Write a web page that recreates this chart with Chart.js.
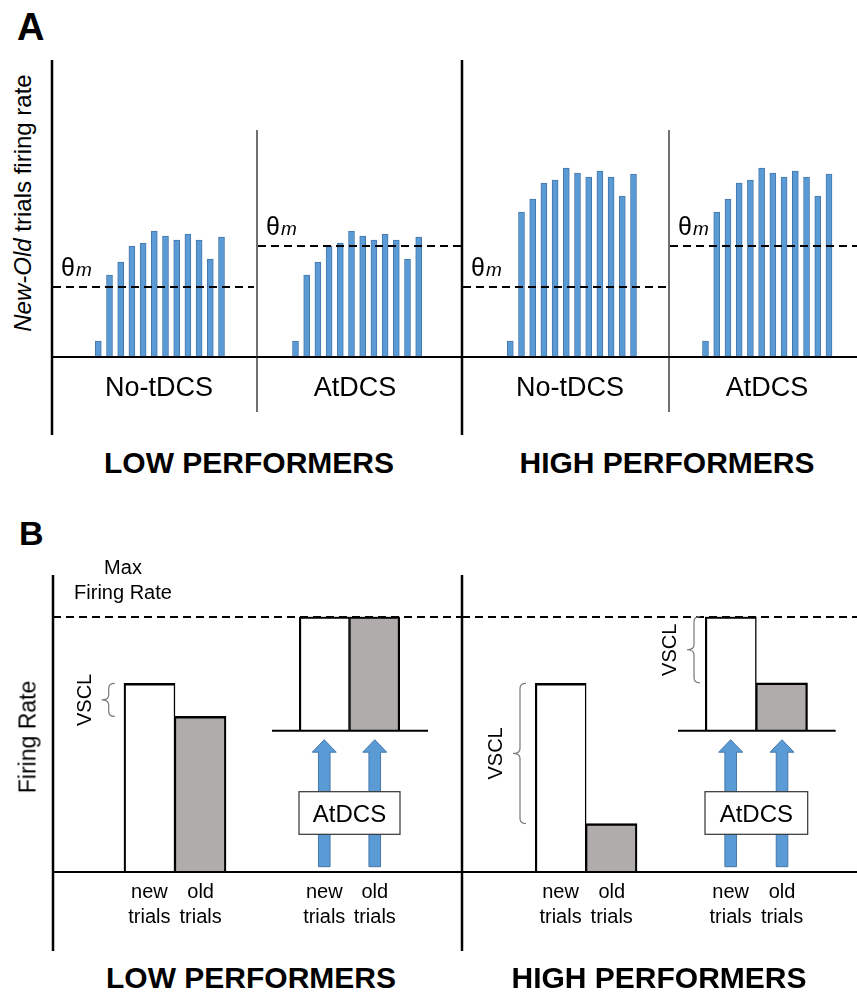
<!DOCTYPE html>
<html lang="en">
<head>
<meta charset="UTF-8">
<title>New/Old trials firing rate - low vs high performers</title>
<script src="https://cdn.jsdelivr.net/npm/chart.js"></script>
<style>
  body { margin: 0; background: #fff; }
  #fig { position: relative; width: 857px; height: 993px; overflow: hidden;
         font-family: "Liberation Sans", Arial, sans-serif; color: #000; background: #fff; }
  #fig canvas { position: absolute; }
  .txt { position: absolute; white-space: nowrap; line-height: 1; }
  .rot { position: absolute; white-space: nowrap; line-height: 1; transform: translate(-50%, -50%) rotate(-90deg); }
</style>
</head>
<body>
<div id="fig"></div>

<script>
// ---- data (panel A: firing rate per trial, arbitrary units) ----
const trials = ['1', '2', '3', '4', '5', '6', '7', '8', '9', '10', '11', '12'];
const lowRates = [16, 82, 95, 111, 114, 126, 121, 117, 123, 117, 98, 120];
const highRates = [16, 145, 158, 174, 177, 189, 184, 180, 186, 180, 161, 183];
const thetaNoTdcs = 70;
const thetaAtdcs = 111;
const rateMaxA = 297;
const conditions = ['No-tDCS', 'AtDCS'];
const groups = ['LOW PERFORMERS', 'HIGH PERFORMERS'];

// ---- data (panel B: firing rate, % of max) ----
const trialTypes = [['new', 'trials'], ['old', 'trials']];
const lowNoTdcs = [74, 61];
const lowAtdcs = [100, 100];
const highNoTdcs = [74, 19];
const highAtdcs = [100, 42];
const maxRate = 100;

const FONT = '"Liberation Sans", Arial, sans-serif';
const BLUE = '#5b9bd5';
const BLUE_EDGE = '#4577ab';
const GREY = '#b0acab';

Chart.defaults.font.family = FONT;
Chart.defaults.animation = false;
Chart.defaults.events = [];
Chart.defaults.plugins.legend.display = false;
Chart.defaults.plugins.tooltip.enabled = false;

const fig = document.getElementById('fig');

function makeCanvas(left, top, w, h) {
  const cv = document.createElement('canvas');
  cv.width = Math.round(w);
  cv.height = Math.round(h);
  cv.style.left = left + 'px';
  cv.style.top = top + 'px';
  fig.appendChild(cv);
  return cv;
}

function addText(html, x, baseline, size, opts) {
  opts = opts || {};
  const d = document.createElement('div');
  d.className = 'txt';
  d.innerHTML = html;
  d.style.fontSize = size + 'px';
  if (opts.bold) d.style.fontWeight = 'bold';
  d.style.top = (baseline - 0.8465 * size) + 'px';
  d.style.left = x + 'px';
  if (opts.center) d.style.transform = 'translateX(-50%)';
  fig.appendChild(d);
}

function addRotated(html, cx, cy, size) {
  const d = document.createElement('div');
  d.className = 'rot';
  d.innerHTML = html;
  d.style.fontSize = size + 'px';
  d.style.left = cx + 'px';
  d.style.top = cy + 'px';
  fig.appendChild(d);
}

function drawBrace(ctx, x, yTop, yBot) {
  const ym = (yTop + yBot) / 2;
  const r = Math.min(5, (yBot - yTop) / 6);
  ctx.save();
  ctx.strokeStyle = '#777';
  ctx.lineWidth = 1.2;
  ctx.beginPath();
  ctx.moveTo(x + 6, yTop);
  ctx.quadraticCurveTo(x, yTop, x, yTop + r);
  ctx.lineTo(x, ym - r);
  ctx.quadraticCurveTo(x, ym, x - 7, ym);
  ctx.quadraticCurveTo(x, ym, x, ym + r);
  ctx.lineTo(x, yBot - r);
  ctx.quadraticCurveTo(x, yBot, x + 6, yBot);
  ctx.stroke();
  ctx.restore();
}

// brace + "VSCL" between the new and old bar heights
function drawVscl(chart, gap) {
  const ds = chart.data.datasets[0].data;
  if (ds[0] <= ds[1]) return;
  const ctx = chart.ctx, y = chart.scales.y;
  const bar = chart.getDatasetMeta(0).data[0];
  const bx = bar.x - bar.width / 2 - gap;
  const yTop = y.getPixelForValue(ds[0]), yBot = y.getPixelForValue(ds[1]);
  drawBrace(ctx, bx, yTop, yBot);
  ctx.save();
  ctx.translate(bx - 23.5, (yTop + yBot) / 2);
  ctx.rotate(-Math.PI / 2);
  ctx.font = '20px ' + FONT;
  ctx.fillStyle = '#000';
  ctx.textAlign = 'center';
  ctx.textBaseline = 'middle';
  ctx.fillText('VSCL', 0, 0);
  ctx.restore();
}

function drawTrialLabels(chart, y1, y2) {
  const ctx = chart.ctx;
  ctx.save();
  ctx.font = '20px ' + FONT;
  ctx.fillStyle = '#000';
  ctx.textAlign = 'center';
  ctx.textBaseline = 'alphabetic';
  chart.getDatasetMeta(0).data.forEach((bar, i) => {
    ctx.fillText(trialTypes[i][0], bar.x, y1);
    ctx.fillText(trialTypes[i][1], bar.x, y2);
  });
  ctx.restore();
}

function drawArrow(ctx, cx, tipY, baseY) {
  const sw = 5.8, hw = 12, hh = 12.5;
  ctx.beginPath();
  ctx.moveTo(cx, tipY);
  ctx.lineTo(cx + hw, tipY + hh);
  ctx.lineTo(cx + sw, tipY + hh);
  ctx.lineTo(cx + sw, baseY);
  ctx.lineTo(cx - sw, baseY);
  ctx.lineTo(cx - sw, tipY + hh);
  ctx.lineTo(cx - hw, tipY + hh);
  ctx.closePath();
  ctx.fillStyle = BLUE;
  ctx.fill();
  ctx.strokeStyle = BLUE_EDGE;
  ctx.lineWidth = 1;
  ctx.stroke();
}

// ---- plugins ----
const trialDecor = {
  id: 'trialDecor',
  beforeDatasetsDraw(chart, args, o) {
    const { ctx, chartArea: a } = chart;
    const y0 = chart.scales.y.getPixelForValue(0);
    ctx.save();
    ctx.beginPath();
    if (o.thick) {
      ctx.lineWidth = 2.5; ctx.strokeStyle = '#000';
      ctx.moveTo(o.lineX, a.top); ctx.lineTo(o.lineX, y0 + 78);
    } else {
      ctx.lineWidth = 1.4; ctx.strokeStyle = '#333';
      ctx.moveTo(o.lineX, a.top + 70); ctx.lineTo(o.lineX, y0 + 55);
    }
    ctx.stroke();
    ctx.restore();
  },
  afterDatasetsDraw(chart, args, o) {
    const ctx = chart.ctx, y = chart.scales.y;
    const y0 = y.getPixelForValue(0), yt = y.getPixelForValue(o.theta);
    ctx.save();
    ctx.strokeStyle = '#000';
    ctx.lineWidth = 2;
    ctx.beginPath(); ctx.moveTo(o.lineX, y0); ctx.lineTo(chart.width, y0); ctx.stroke();
    ctx.setLineDash([8, 5]);
    ctx.beginPath(); ctx.moveTo(o.lineX + 1, yt); ctx.lineTo(chart.width - o.endGap, yt); ctx.stroke();
    ctx.setLineDash([]);
    ctx.fillStyle = '#000';
    ctx.textBaseline = 'alphabetic';
    ctx.textAlign = 'left';
    const tx = o.lineX + 9, ty = yt - 11;
    ctx.font = '25px ' + FONT;
    ctx.fillText('θ', tx, ty);
    const w = ctx.measureText('θ').width;
    ctx.font = 'italic 19px ' + FONT;
    ctx.fillText('m', tx + w + 1, ty);
    ctx.font = '27px ' + FONT;
    ctx.textAlign = 'center';
    ctx.fillText(o.cond, o.labelX, y0 + 39);
    ctx.restore();
  }
};

const mainDecor = {
  id: 'mainDecor',
  beforeDatasetsDraw(chart, args, o) {
    const ctx = chart.ctx, y = chart.scales.y;
    const y0 = y.getPixelForValue(0), yMax = y.getPixelForValue(maxRate);
    ctx.save();
    ctx.strokeStyle = '#000';
    ctx.lineWidth = 2.5;
    ctx.beginPath(); ctx.moveTo(o.lineX, yMax - 42); ctx.lineTo(o.lineX, y0 + 79); ctx.stroke();
    ctx.lineWidth = 2;
    ctx.setLineDash([8, 5]);
    ctx.beginPath(); ctx.moveTo(o.lineX, yMax); ctx.lineTo(chart.width, yMax); ctx.stroke();
    ctx.restore();
  },
  afterDatasetsDraw(chart, args, o) {
    const ctx = chart.ctx;
    const y0 = chart.scales.y.getPixelForValue(0);
    ctx.save();
    ctx.strokeStyle = '#000';
    ctx.lineWidth = 2;
    ctx.beginPath(); ctx.moveTo(o.lineX, y0); ctx.lineTo(chart.width, y0); ctx.stroke();
    ctx.restore();
    drawVscl(chart, 15);
    drawTrialLabels(chart, y0 + 26, y0 + 51);
  }
};

const insetDecor = {
  id: 'insetDecor',
  afterDatasetsDraw(chart, args, o) {
    const { ctx, chartArea: a } = chart;
    const y0 = chart.scales.y.getPixelForValue(0);
    ctx.save();
    ctx.strokeStyle = '#000';
    ctx.lineWidth = 2;
    ctx.beginPath(); ctx.moveTo(a.left - 27, y0); ctx.lineTo(a.right + 28, y0); ctx.stroke();
    chart.getDatasetMeta(0).data.forEach(bar => drawArrow(ctx, bar.x, y0 + 9, y0 + 136));
    ctx.fillStyle = '#fff';
    ctx.fillRect(a.left, y0 + 61, a.right - a.left, 42.6);
    ctx.strokeStyle = '#333';
    ctx.lineWidth = 1.2;
    ctx.strokeRect(a.left, y0 + 61, a.right - a.left, 42.6);
    ctx.fillStyle = '#000';
    ctx.font = '24px ' + FONT;
    ctx.textAlign = 'center';
    ctx.textBaseline = 'alphabetic';
    ctx.fillText('AtDCS', (a.left + a.right) / 2, y0 + 91);
    ctx.restore();
    drawVscl(chart, 11);
    drawTrialLabels(chart, y0 + 167.3, y0 + 192.3);
  }
};

// ---- panel A: four trial-by-trial bar charts ----
const panelA = [
  { lineX: 52, right: 257, first: 98.3, last: 221.5, thick: true, labelX: 159, endGap: 3, rates: lowRates, theta: thetaNoTdcs, cond: conditions[0] },
  { lineX: 257, right: 462, first: 295.5, last: 418.7, thick: false, labelX: 355, endGap: 0, rates: lowRates, theta: thetaAtdcs, cond: conditions[1] },
  { lineX: 462, right: 669, first: 510.3, last: 633.5, thick: true, labelX: 570, endGap: 3, rates: highRates, theta: thetaNoTdcs, cond: conditions[0] },
  { lineX: 669, right: 857, first: 705.5, last: 829, thick: false, labelX: 767, endGap: 0, rates: highRates, theta: thetaAtdcs, cond: conditions[1] }
];

panelA.forEach(p => {
  const left = p.lineX - 4, top = 55, w = p.right - left, h = 385;
  const step = (p.last - p.first) / (trials.length - 1);
  const cv = makeCanvas(left, top, w, h);
  new Chart(cv, {
    type: 'bar',
    data: {
      labels: trials,
      datasets: [{
        data: p.rates,
        backgroundColor: BLUE,
        borderColor: BLUE_EDGE,
        borderWidth: 1,
        barThickness: 6
      }]
    },
    options: {
      responsive: false,
      layout: { padding: { left: p.first - step / 2 - left, right: left + w - (p.last + step / 2), top: 5, bottom: 83 } },
      scales: {
        x: { display: false },
        y: { display: false, min: 0, max: rateMaxA }
      },
      plugins: {
        trialDecor: { lineX: 4, thick: p.thick, theta: p.theta, cond: p.cond, labelX: p.labelX - left, endGap: p.endGap }
      }
    },
    plugins: [trialDecor]
  });
});

// ---- panel B: new vs old trials, without and with AtDCS ----
function pairDataset(values) {
  return {
    data: values,
    backgroundColor: ['#ffffff', GREY],
    borderColor: '#000',
    borderWidth: [{ left: 2.5, top: 2.5, right: 1.5, bottom: 0 }, { left: 1.5, top: 2.5, right: 2.5, bottom: 0 }],
    categoryPercentage: 1,
    barPercentage: 1
  };
}

const panelB = [
  { lineX: 53, left: 40, right: 462, barLeft: 123.7, barRight: 226.3, values: lowNoTdcs },
  { lineX: 462, left: 452, right: 857, barLeft: 535, barRight: 637.3, values: highNoTdcs }
];

panelB.forEach(p => {
  const top = 560, w = p.right - p.left, h = 395;
  const cv = makeCanvas(p.left, top, w, h);
  new Chart(cv, {
    type: 'bar',
    data: { labels: trialTypes.map(t => t.join(' ')), datasets: [pairDataset(p.values)] },
    options: {
      responsive: false,
      layout: { padding: { left: p.barLeft - p.left, right: p.right - p.barRight, top: 57, bottom: 83 } },
      scales: {
        x: { display: false },
        y: { display: false, min: 0, max: maxRate }
      },
      plugins: { mainDecor: { lineX: p.lineX - p.left } }
    },
    plugins: [mainDecor]
  });
});

const insets = [
  { barLeft: 299, barRight: 400, values: lowAtdcs },
  { barLeft: 705, barRight: 807.7, values: highAtdcs }
];

insets.forEach(p => {
  const left = p.barLeft - 50, top = 600, w = 190, h = 330;
  const cv = makeCanvas(left, top, w, h);
  new Chart(cv, {
    type: 'bar',
    data: { labels: trialTypes.map(t => t.join(' ')), datasets: [pairDataset(p.values)] },
    options: {
      responsive: false,
      layout: { padding: { left: 50, right: left + w - p.barRight, top: 16.7, bottom: 199.3 } },
      scales: {
        x: { display: false },
        y: { display: false, min: 0, max: maxRate }
      }
    },
    plugins: [insetDecor]
  });
});

// ---- static labels ----
addText('A', 17, 40, 38, { bold: true });
addText('B', 19, 545, 34, { bold: true });
addText(groups[0], 249, 473, 30, { bold: true, center: true });
addText(groups[1], 667, 473, 30, { bold: true, center: true });
addText(groups[0], 251, 988, 30, { bold: true, center: true });
addText(groups[1], 659, 988, 30, { bold: true, center: true });
addText('Max', 123, 574, 20, { center: true });
addText('Firing Rate', 123, 599, 20, { center: true });
addRotated('<i>New-Old</i> trials firing rate', 22.5, 202.5, 24);
addRotated('Firing Rate', 27.5, 737, 23);
</script>
</body>
</html>
